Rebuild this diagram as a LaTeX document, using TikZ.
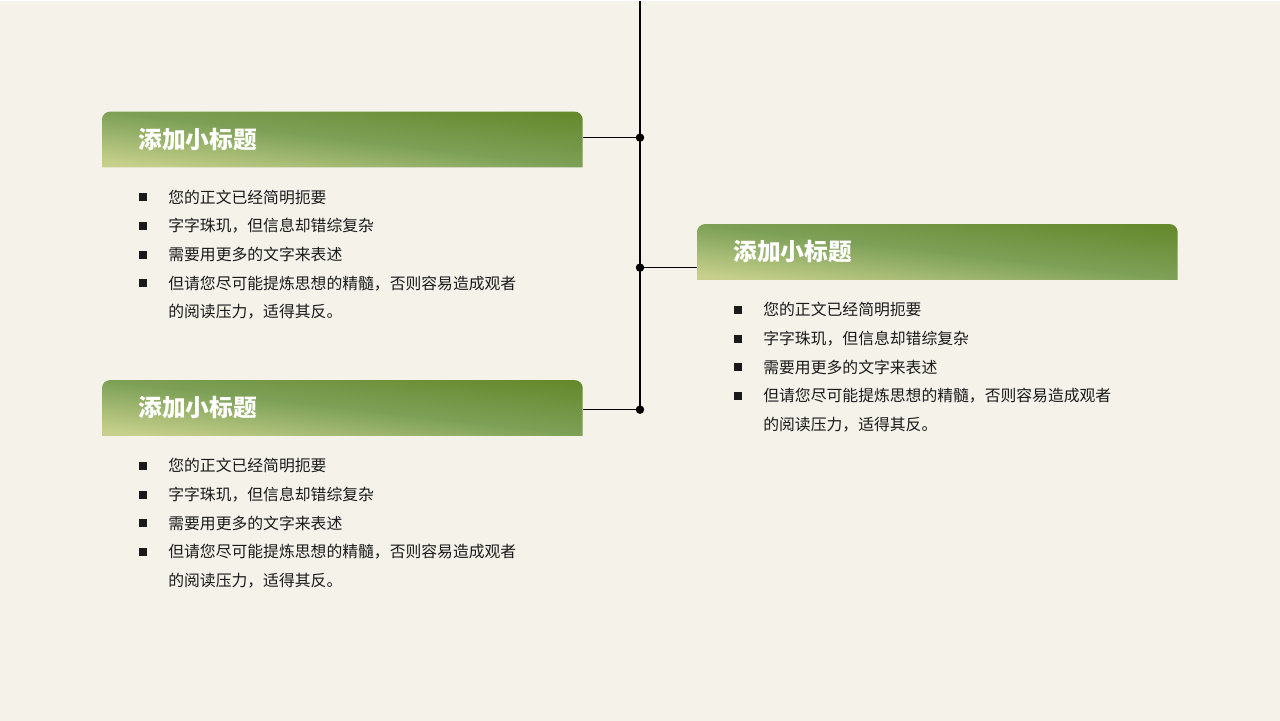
\documentclass[tikz,border=0pt]{standalone}
\usepackage{fontspec}
\usetikzlibrary{positioning}
\newfontfamily\cjk{Noto Sans CJK SC}
\definecolor{pagecream}{HTML}{F5F2EA}
\definecolor{barlight}{HTML}{C6D08C}
\definecolor{barmid}{HTML}{7DA057}
\definecolor{bardark}{HTML}{658A2E}
\definecolor{inkdark}{HTML}{1A1A1A}
\pgfdeclareverticalshading{barshade}{100bp}{color(0bp)=(barlight); color(25bp)=(barlight); color(50bp)=(barmid); color(75bp)=(bardark); color(100bp)=(bardark)}

\begin{document}
\begin{tikzpicture}[
    headbar/.style={minimum width=9.6cm, minimum height=1.1cm, inner sep=0pt, anchor=north west},
    barfill/.style={shading=barshade, shading angle=-6.5},
    headtext/.style={font=\cjk\bfseries\fontsize{13.5}{16}\selectfont, text=white, inner sep=0pt},
    bodyline/.style={font=\cjk\fontsize{9}{11}\selectfont, text=inkdark, inner sep=0pt, anchor=west},
    bulletsq/.style={fill=inkdark, minimum size=0.16cm, inner sep=0pt},
    junction/.style={circle, fill=black, minimum size=0.17cm, inner sep=0pt},
    link/.style={line width=0.7pt},
]
    % Page
    \fill[pagecream] (0,0) rectangle (25.6,-14.4);

    % Three panels: name / x shift / y shift
    \foreach \p/\dx/\dy in {a/0/0, b/0/-5.37, c/11.9/-2.25} {
      \begin{scope}[shift={(\dx,\dy)}]
        \node[headbar] (bar\p) at (2.04,-2.22) {};
        \shade[barfill] (bar\p.south west) [rounded corners=0.16cm] -- (bar\p.north west) -- (bar\p.north east) [sharp corners] -- (bar\p.south east) -- cycle;
        \node[headtext, right=0.72cm of bar\p.west] (head\p) {添加小标题};
        \foreach \i in {1,...,4}
          \node[bulletsq] (sq\p\i) at (2.86,-3.36-0.574*\i) {};
        \foreach \i/\t in {1/您的正文已经简明扼要, 2/字字珠玑，但信息却错综复杂, 3/需要用更多的文字来表述, 4/但请您尽可能提炼思想的精髓，否则容易造成观者, 5/的阅读压力，适得其反。}
          \node[bodyline] (txt\p\i) at (3.36,-3.36-0.574*\i) {\t};
      \end{scope}
    }

    % Spine and junctions
    \coordinate (top) at (12.8,0);
    \node[junction] (j1) at (12.8,-2.74) {};
    \node[junction] (j2) at (12.8,-5.34) {};
    \node[junction] (j3) at (12.8,-8.18) {};
    \draw[link] (top) -- (j3.center);
    \draw[link] (j1.center) -- (j1 -| bara.east);
    \draw[link] (j2.center) -- (j2 -| barc.west);
    \draw[link] (j3.center) -- (j3 -| barb.east);
\end{tikzpicture}
\end{document}
